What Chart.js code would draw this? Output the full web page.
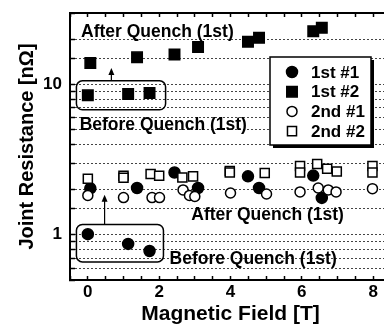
<!DOCTYPE html>
<html>
<head>
<meta charset="utf-8">
<script src="https://cdn.jsdelivr.net/npm/chart.js@4"></script>
<style>
html, body { margin: 0; padding: 0; background: #fff; overflow: hidden; }
#wrap { width: 384px; height: 327px; overflow: hidden; }
</style>
</head>
<body>
<div id="wrap"><canvas id="chart" width="400" height="327"></canvas></div>
<script>
// series labels
const seriesNames = ["1st #1", "1st #2", "2nd #1", "2nd #2"];

// 1st test, before quench
const beforeField = [0, 1.13, 1.73];
const first1Before = [1.01, 0.87, 0.78];
const first2Before = [8.49, 8.67, 8.8];

// 1st test, after quench
const afterField = [0.07, 1.38, 2.43, 3.09, 4.49, 4.8, 6.32, 6.56];
const first1After = [2.04, 2.05, 2.6, 2.05, 2.45, 2.05, 2.48, 1.76];
const first2After = [13.95, 15.2, 15.85, 17.8, 19.3, 20.5, 22.7, 23.9];

// 2nd test
const second1Field = [0, 1.0, 1.8, 2.01, 2.67, 2.85, 3.0, 4.0, 5.01, 5.95, 6.46, 6.74, 6.96, 7.98];
const second1 = [1.83, 1.77, 1.77, 1.77, 1.99, 1.83, 1.8, 1.9, 1.87, 1.93, 2.05, 1.99, 1.93, 2.03];
const second2Field = [0, 1.0, 1.0, 1.76, 2.0, 2.65, 2.95, 3.98, 3.98, 4.96, 5.95, 5.95, 6.43, 6.71, 6.98, 7.98, 7.98];
const second2 = [2.36, 2.47, 2.4, 2.54, 2.47, 2.41, 2.45, 2.66, 2.6, 2.58, 2.87, 2.6, 2.96, 2.75, 2.64, 2.87, 2.6];

// axis labels
const xTickLabels = [0, 2, 4, 6, 8];
const yTickLabels = [1, 10];

const FONT = "'Liberation Sans', Arial, sans-serif";

function pts(xs, ys) {
	return xs.map((x, i) => ({x: x, y: ys[i]}));
}

// notes on the plot, in data units
const notes = [
	{text: "After Quench (1st)", x: -0.19, y: 20.7},
	{text: "Before Quench (1st)", x: -0.23, y: 5.0},
	{text: "After Quench (1st)", x: 2.9, y: 1.26},
	{text: "Before Quench (1st)", x: 2.29, y: 0.64}
];
const boxes = [
	{x0: -0.32, x1: 2.18, y0: 6.8, y1: 10.6},
	{x0: -0.32, x1: 2.12, y0: 0.66, y1: 1.17}
];
const arrows = [
	{x: 0.66, from: 10.6, to: 12.9},
	{x: 0.47, from: 1.17, to: 1.85}
];

const markers = [
	{style: "circle", fill: "#000", r: 5.5},
	{style: "rect", fill: "#000", r: 7.4},
	{style: "circle", fill: "#fff", r: 5},
	{style: "rect", fill: "#fff", r: 6.4}
];

function drawMarker(ctx, m, x, y) {
	ctx.beginPath();
	if (m.style == "circle") {
		ctx.arc(x, y, m.r, 0, Math.PI * 2);
	} else {
		let h = m.r * Math.SQRT1_2;
		ctx.rect(x - h, y - h, 2 * h, 2 * h);
	}
	ctx.fillStyle = m.fill;
	ctx.fill();
	ctx.lineWidth = 1.5;
	ctx.strokeStyle = "#000";
	ctx.stroke();
}

const notesPlugin = {
	id: "notes",
	afterDatasetsDraw(chart) {
		const ctx = chart.ctx;
		const xs = chart.scales.x;
		const ys = chart.scales.y;
		ctx.save();
		ctx.strokeStyle = "#000";
		ctx.lineWidth = 1.5;
		boxes.forEach(b => {
			let l = xs.getPixelForValue(b.x0), r = xs.getPixelForValue(b.x1);
			let t = ys.getPixelForValue(b.y1), bt = ys.getPixelForValue(b.y0);
			ctx.beginPath();
			ctx.roundRect(l, t, r - l, bt - t, 6);
			ctx.stroke();
		});
		arrows.forEach(a => {
			let x = xs.getPixelForValue(a.x);
			let y0 = ys.getPixelForValue(a.from), y1 = ys.getPixelForValue(a.to);
			ctx.lineWidth = 1.2;
			ctx.beginPath();
			ctx.moveTo(x, y0);
			ctx.lineTo(x, y1 + 3);
			ctx.stroke();
			ctx.beginPath();
			ctx.moveTo(x, y1);
			ctx.lineTo(x - 3, y1 + 7);
			ctx.lineTo(x + 3, y1 + 7);
			ctx.closePath();
			ctx.fillStyle = "#000";
			ctx.fill();
		});
		ctx.fillStyle = "#000";
		ctx.font = "bold 17.5px " + FONT;
		ctx.textBaseline = "alphabetic";
		ctx.textAlign = "left";
		notes.forEach(n => {
			ctx.fillText(n.text, xs.getPixelForValue(n.x), ys.getPixelForValue(n.y));
		});

		// legend box
		let lx = 270, ly = 57, lw = 101, lh = 88;
		ctx.fillStyle = "#000";
		ctx.fillRect(lx + 3, ly + 3, lw, lh);
		ctx.fillStyle = "#fff";
		ctx.fillRect(lx, ly, lw, lh);
		ctx.lineWidth = 1.5;
		ctx.strokeStyle = "#000";
		ctx.strokeRect(lx, ly, lw, lh);
		ctx.font = "bold 17px " + FONT;
		ctx.textBaseline = "middle";
		seriesNames.forEach((name, i) => {
			let cy = ly + 15 + i * 19.7;
			drawMarker(ctx, markers[i], lx + 22, cy);
			ctx.fillStyle = "#000";
			ctx.fillText(name, lx + 41, cy + 1);
		});
		ctx.restore();
	}
};

function dataset(i, data, order) {
	let m = markers[i];
	return {
		label: seriesNames[i],
		data: data,
		pointStyle: m.style,
		pointRadius: m.r,
		pointBackgroundColor: m.fill,
		pointBorderColor: "#000",
		pointBorderWidth: 1.5,
		showLine: false,
		order: order
	};
}

function noPad(s) {
	s.paddingTop = 0;
	s.paddingBottom = 0;
	s.paddingLeft = 0;
	s.paddingRight = 0;
}

const tickFont = {family: FONT, size: 17, weight: "bold"};

const chart = new Chart(document.getElementById("chart").getContext("2d"), {
	type: "scatter",
	data: {
		datasets: [
			dataset(0, pts(beforeField, first1Before).concat(pts(afterField, first1After)), 3),
			dataset(1, pts(beforeField, first2Before).concat(pts(afterField, first2After)), 2),
			dataset(2, pts(second1Field, second1), 1),
			dataset(3, pts(second2Field, second2), 0)
		]
	},
	options: {
		responsive: false,
		animation: false,
		layout: {padding: {left: 0, right: 9, top: 0, bottom: 0}},
		plugins: {
			legend: {display: false},
			tooltip: {enabled: false}
		},
		scales: {
			x: {
				type: "linear",
				position: "bottom",
				min: -0.5,
				max: 8.5,
				ticks: {
					stepSize: 0.5,
					autoSkip: false,
					maxRotation: 0,
					padding: 6,
					color: "#000",
					font: tickFont,
					callback: v => xTickLabels.includes(v) ? String(v) : ""
				},
				grid: {drawOnChartArea: false, tickLength: -4, tickColor: "#000", tickWidth: 1.5},
				border: {color: "#000", width: 2},
				title: {
					display: true,
					text: "Magnetic Field [T]",
					color: "#000",
					font: {family: FONT, size: 21, weight: "bold"},
					padding: {top: 0, bottom: 0}
				},
				afterFit: s => { s.height = 47; noPad(s); }
			},
			xTop: {
				type: "linear",
				position: "top",
				min: -0.5,
				max: 8.5,
				ticks: {stepSize: 0.5, autoSkip: false, maxRotation: 0, callback: () => ""},
				grid: {drawOnChartArea: false, tickLength: -4, tickColor: "#000", tickWidth: 1.5},
				border: {color: "#000", width: 2},
				afterFit: s => { s.height = 13; noPad(s); }
			},
			y: {
				type: "logarithmic",
				min: 0.5,
				max: 30,
				ticks: {
					autoSkip: false,
					padding: 13,
					color: "#000",
					font: tickFont,
					callback: v => yTickLabels.some(t => Math.abs(t - v) < 1e-9) ? String(v) : ""
				},
				grid: {
					color: "#444",
					lineWidth: 1,
					tickLength: -5,
					tickColor: "#000",
					tickWidth: 1.5,
					tickBorderDash: []
				},
				border: {color: "#000", width: 2, dash: [2, 2]},
				title: {
					display: true,
					text: "Joint Resistance [nΩ]",
					color: "#000",
					font: {family: FONT, size: 20, weight: "bold"},
					padding: {top: 15, bottom: 0}
				},
				afterFit: s => { s.width = 70; noPad(s); }
			}
		}
	},
	plugins: [notesPlugin]
});
</script>
</body>
</html>
